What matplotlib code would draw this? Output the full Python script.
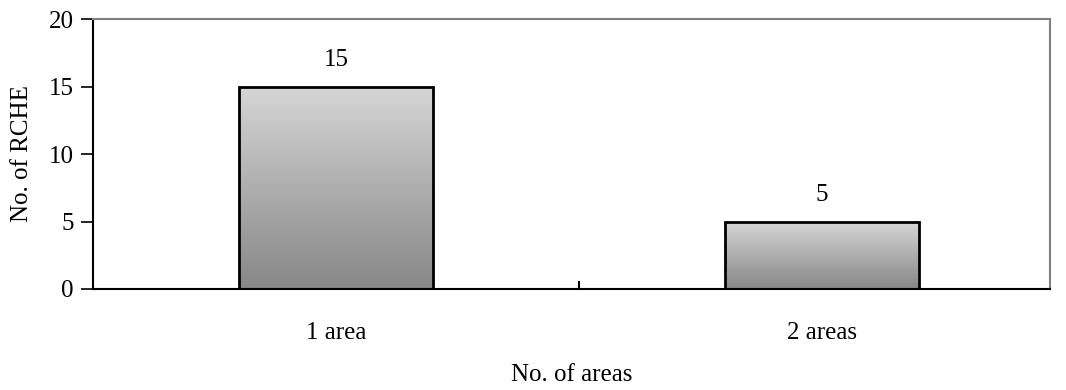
import numpy as np
import matplotlib.pyplot as plt
from matplotlib.colors import LinearSegmentedColormap

categories = ['1 area', '2 areas']
counts = [15, 5]

plt.rcParams['font.family'] = ['Liberation Serif', 'DejaVu Serif']

fig = plt.figure(figsize=(10.66, 3.9), dpi=100)
ax = fig.add_axes([0.0872, 0.259, 0.8978, 0.692])

x = np.arange(len(categories))
width = 0.40
bars = ax.bar(x, counts, width=width, color='none', edgecolor='black', linewidth=2, zorder=3)

# vertical gradient fill for each bar, light at top and dark at bottom
cmap = LinearSegmentedColormap.from_list('g', ['#d6d6d6', '#878787'])
grad = np.linspace(0, 1, 256).reshape(-1, 1)
for b in bars:
    x0, y0 = b.get_x(), b.get_y()
    w, h = b.get_width(), b.get_height()
    ax.imshow(grad, extent=[x0, x0 + w, y0, y0 + h], origin='upper', cmap=cmap,
              aspect='auto', zorder=2, interpolation='bilinear')

for xi, v in zip(x, counts):
    ax.text(xi, v + 2, str(v), ha='center', va='center', fontsize=18)

ax.set_xlim(-0.5, 1.47)
ax.set_ylim(0, 20)
ax.set_yticks([0, 5, 10, 15, 20])
ax.tick_params(axis='y', direction='out', length=9, width=1.2, labelsize=18, pad=5)
ax.set_xticks(x)
ax.set_xticklabels(categories)
ax.tick_params(axis='x', length=0, labelsize=18, pad=24)
# separator tick between categories
ax.plot([0.5, 0.5], [0, 0.55], color='black', lw=1.5, zorder=4, clip_on=False)

ax.spines['left'].set_linewidth(1.5)
ax.spines['bottom'].set_linewidth(1.5)
ax.spines['top'].set_color('#808080')
ax.spines['right'].set_color('#808080')
ax.spines['top'].set_linewidth(1.5)
ax.spines['right'].set_linewidth(1.5)

ax.set_ylabel('No. of RCHE', fontsize=18, va='center')
ax.yaxis.set_label_coords(-0.074, 0.5)
ax.set_xlabel('No. of areas', fontsize=18, va='center')
ax.xaxis.set_label_coords(0.5, -0.32)

fig.savefig('out.png', dpi=100)
